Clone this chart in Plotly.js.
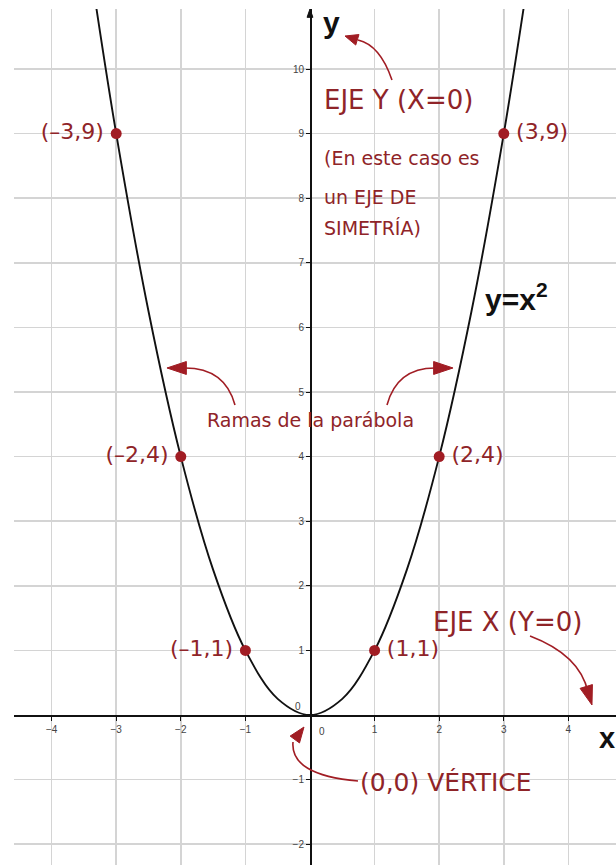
<!DOCTYPE html>
<html>
<head>
<meta charset="utf-8">
<script src="https://cdn.plot.ly/plotly-3.0.1.min.js"></script>
<style>
  html, body { margin: 0; padding: 0; background: #fff; }
  #parabola { width: 616px; height: 865px; }
</style>
</head>
<body>
<div id="parabola"></div>
<script>
// curve y = x^2
const curveX = [-3.4, -3, -2.5, -2, -1.5, -1, -0.5, 0, 0.5, 1, 1.5, 2, 2.5, 3, 3.4];
const curveY = [11.56, 9, 6.25, 4, 2.25, 1, 0.25, 0, 0.25, 1, 2.25, 4, 6.25, 9, 11.56];

// marked points and their labels
const pointsX = [-3, -2, -1, 1, 2, 3];
const pointsY = [9, 4, 1, 1, 4, 9];
const pointLabels = ["(–3,9)", "(–2,4)", "(–1,1)", "(1,1)", "(2,4)", "(3,9)"];
const labelSide = ["middle left", "middle left", "middle left", "middle right", "middle right", "middle right"];

// tick labels
const xTicks = [-4, -3, -2, -1, 1, 2, 3, 4];
const yTicks = [-2, -1, 1, 2, 3, 4, 5, 6, 7, 8, 9, 10];

const red = "#a11d24";
const redText = "#8f2428";
const hand = "DejaVu Sans, sans-serif";
const bold = "Liberation Sans, Arial, sans-serif";

const curve = {
  x: curveX,
  y: curveY,
  mode: "lines",
  type: "scatter",
  line: {color: "#111", width: 1.9, shape: "spline"},
  hoverinfo: "skip"
};

// a little padding between dot and label
const paddedLabels = pointLabels.map((t, i) =>
  labelSide[i] === "middle left" ? t + "\u2009" : "\u2009" + t);

const points = {
  x: pointsX,
  y: pointsY,
  mode: "markers+text",
  type: "scatter",
  text: paddedLabels,
  textposition: labelSide,
  textfont: {family: hand, size: 22, color: redText},
  marker: {color: red, size: 11}
};

// curved arrows drawn as paths
const shapes = [
  {type: "path", path: "M 1.269 9.830 Q 1.084 10.372 0.743 10.449"},
  {type: "path", path: "M -1.161 4.799 Q -1.316 5.372 -1.935 5.372"},
  {type: "path", path: "M 1.192 4.799 Q 1.347 5.372 1.935 5.372"},
  {type: "path", path: "M 3.406 1.223 Q 4.180 0.929 4.303 0.356"},
  {type: "path", path: "M 0.743 -1.022 Q -0.310 -0.929 -0.263 -0.418"}
];
shapes.forEach(s => { s.line = {color: red, width: 1.6}; });

// arrow heads as filled triangles (both axes share 64.6 px per unit)
function head(tx, ty, fx, fy, len, hw) {
  const dx = tx - fx, dy = ty - fy;
  const d = Math.sqrt(dx * dx + dy * dy);
  const ux = dx / d, uy = dy / d;
  const bx = tx - ux * len, by = ty - uy * len;
  const p1 = [bx - uy * hw, by + ux * hw];
  const p2 = [bx + uy * hw, by - ux * hw];
  return {type: "path", fillcolor: red, line: {color: red, width: 1},
    path: `M ${tx} ${ty} L ${p1[0]} ${p1[1]} L ${p2[0]} ${p2[1]} Z`};
}
shapes.push(
  head(0.542, 10.511, 0.743, 10.449, 0.2, 0.085),
  head(-2.214, 5.372, -1.935, 5.372, 0.3, 0.1),
  head(2.214, 5.372, 1.935, 5.372, 0.3, 0.1),
  head(4.365, 0.155, 4.303, 0.356, 0.3, 0.1),
  head(-0.093, -0.186, -0.263, -0.418, 0.24, 0.09),
  // arrow on top of the y axis
  {type: "path", fillcolor: "#111", line: {color: "#111", width: 1},
    path: "M 0 10.93 L -0.045 10.80 L 0.045 10.80 Z"}
);
shapes.forEach(s => { s.xref = "x"; s.yref = "y"; s.layer = "above"; });

function note(txt, x, y, size, opts) {
  return Object.assign({x: x, y: y, xref: "x", yref: "y", text: txt, showarrow: false,
    xanchor: "left", font: {family: hand, size: size, color: redText}}, opts || {});
}

const annotations = [
  {x: 0.17, y: 10.72, xref: "x", yref: "y", text: "<b>y</b>", showarrow: false, xanchor: "left",
    font: {family: bold, size: 30, color: "#111"}},
  {x: 4.45, y: -0.36, xref: "x", yref: "y", text: "<b>x</b>", showarrow: false, xanchor: "left",
    font: {family: bold, size: 29, color: "#111"}},
  {x: 2.68, y: 6.47, xref: "x", yref: "y", text: "<b>y=x<sup>2</sup></b>", showarrow: false, xanchor: "left",
    font: {family: bold, size: 30, color: "#111"}},
  // origin labels
  {x: 0.19, y: -0.25, xref: "x", yref: "y", text: "0", showarrow: false,
    font: {family: bold, size: 10, color: "#444"}},
  {x: -0.19, y: 0.13, xref: "x", yref: "y", text: "0", showarrow: false,
    font: {family: bold, size: 10, color: "#444"}},

  note("EJE Y (X=0)", 0.18, 9.52, 26),
  note("(En este caso es", 0.18, 8.62, 19),
  note("un EJE DE", 0.18, 8.02, 19),
  note("SIMETRÍA)", 0.18, 7.54, 19),
  note("Ramas de la parábola", 0.008, 4.57, 19, {xanchor: "center"}),
  note("EJE X (Y=0)", 1.88, 1.44, 26),
  note("(0,0) VÉRTICE", 0.74, -1.04, 25)
];

const tickFont = {family: bold, size: 10, color: "#444"};

const layout = {
  width: 616,
  height: 865,
  margin: {l: 14, r: 0, t: 9, b: 0},
  paper_bgcolor: "#fff",
  plot_bgcolor: "#fff",
  showlegend: false,
  xaxis: {
    range: [-4.582, 4.737],
    anchor: "free",
    position: 0.1752,
    tickvals: xTicks,
    ticks: "outside",
    ticklen: 4,
    tickcolor: "#111",
    tickfont: tickFont,
    showline: true,
    linecolor: "#111",
    linewidth: 1.6,
    showgrid: true,
    gridcolor: "#d4d4d4",
    gridwidth: 1.5,
    zeroline: false,
    fixedrange: true
  },
  yaxis: {
    range: [-2.322, 10.929],
    anchor: "free",
    position: 0.4917,
    tickvals: yTicks,
    ticks: "outside",
    ticklen: 4,
    tickcolor: "#111",
    tickfont: tickFont,
    showline: true,
    linecolor: "#111",
    linewidth: 1.6,
    showgrid: true,
    gridcolor: "#d4d4d4",
    gridwidth: 1.5,
    zeroline: false,
    fixedrange: true
  },
  shapes: shapes,
  annotations: annotations
};

Plotly.newPlot("parabola", [curve, points], layout, {staticPlot: true});
</script>
</body>
</html>
